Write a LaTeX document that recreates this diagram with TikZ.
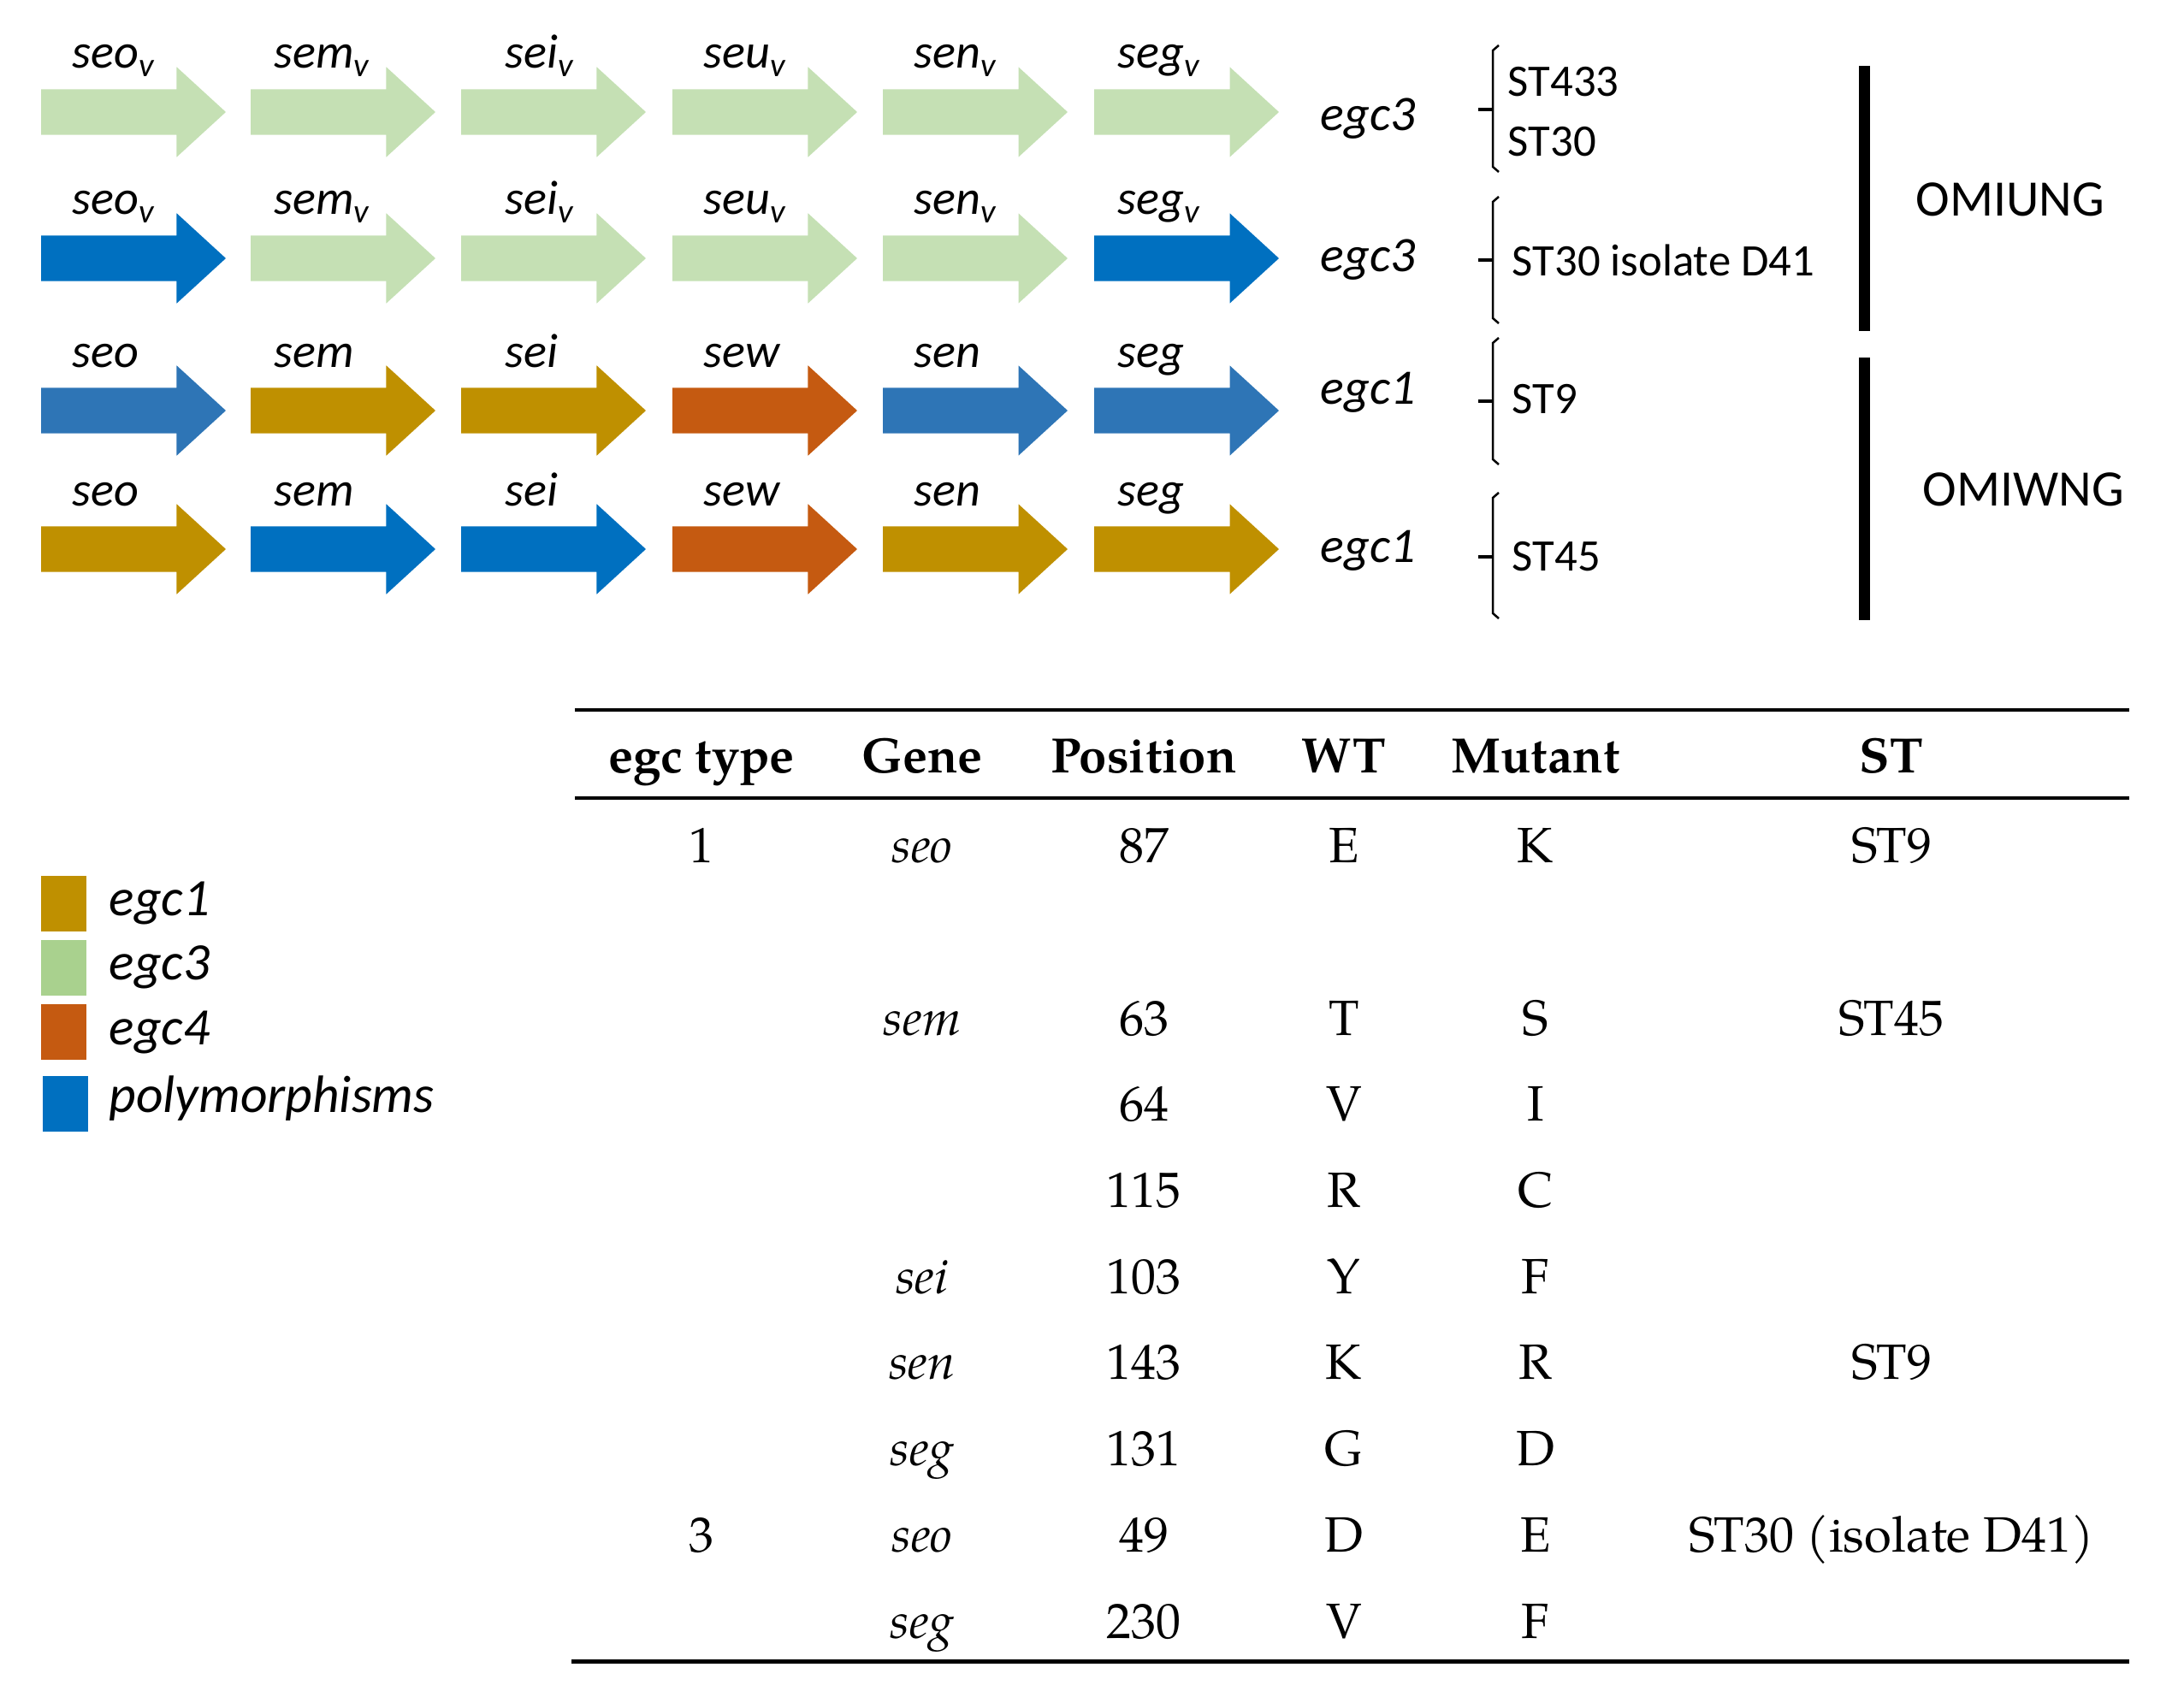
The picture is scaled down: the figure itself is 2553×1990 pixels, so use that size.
\documentclass[tikz,border=0pt]{standalone}
\usepackage{fontspec}
\setmainfont{Carlito}
\newfontfamily\tabfont{texgyrepagella}[Extension=.otf, UprightFont=*-regular, BoldFont=*-bold, ItalicFont=*-italic, BoldItalicFont=*-bolditalic]
\usetikzlibrary{shapes.arrows}
\definecolor{egcone}{HTML}{BF9000}
\definecolor{egcthree}{HTML}{C5E0B4}
\definecolor{egcthreekey}{HTML}{A9D18E}
\definecolor{egcfour}{HTML}{C55A11}
\definecolor{poly}{HTML}{0070C0}
\definecolor{polytwo}{HTML}{2E75B6}
\tikzset{
  gene/.style={single arrow, draw=none, anchor=tail, minimum height=21.6mm, minimum width=10.4mm,
    single arrow head extend=2.6mm, single arrow tip angle=85, inner xsep=0pt, inner ysep=2.6mm, outer sep=0pt},
  genelab/.style={anchor=base west, inner sep=0pt, font=\fontsize{16}{19}\selectfont\itshape},
  egclab/.style={anchor=base west, inner sep=0pt, font=\fontsize{16.5}{19}\selectfont\itshape},
  stlab/.style={anchor=base west, inner sep=0pt, font=\fontsize{15}{18}\selectfont},
  grouplab/.style={anchor=base west, inner sep=0pt, font=\fontsize{17}{20}\selectfont},
  brace/.style={line width=0.25mm},
  keybox/.style={anchor=north west, minimum width=5.3mm, minimum height=6.5mm, inner sep=0pt, draw=none},
  keylab/.style={anchor=base west, inner sep=0pt, font=\fontsize{17.5}{21}\selectfont\itshape},
  th/.style={anchor=base, inner sep=0pt, font=\tabfont\fontsize{16.5}{19}\selectfont\bfseries},
  td/.style={anchor=base, inner sep=0pt, font=\tabfont\fontsize{16.5}{19}\selectfont},
  tdi/.style={td, font=\tabfont\fontsize{16.5}{19}\selectfont\itshape}
}

\begin{document}
\begin{tikzpicture}[x=0.1mm, y=-0.1mm]
\useasboundingbox (0,0) rectangle (2553,1990);

% egc3, reference
\node[gene, fill=egcthree] (a11) at (48,131) {};
\node[gene, fill=egcthree] (a12) at (293,131) {};
\node[gene, fill=egcthree] (a13) at (539,131) {};
\node[gene, fill=egcthree] (a14) at (786,131) {};
\node[gene, fill=egcthree] (a15) at (1032,131) {};
\node[gene, fill=egcthree] (a16) at (1279,131) {};
\node[genelab] (l11) at (84,80) {seo\textsubscript{v}};
\node[genelab] (l12) at (320,80) {sem\textsubscript{v}};
\node[genelab] (l13) at (590,80) {sei\textsubscript{v}};
\node[genelab] (l14) at (822,80) {seu\textsubscript{v}};
\node[genelab] (l15) at (1068,80) {sen\textsubscript{v}};
\node[genelab] (l16) at (1306,80) {seg\textsubscript{v}};

% egc3, isolate D41
\node[gene, fill=poly] (a21) at (48,302) {};
\node[gene, fill=egcthree] (a22) at (293,302) {};
\node[gene, fill=egcthree] (a23) at (539,302) {};
\node[gene, fill=egcthree] (a24) at (786,302) {};
\node[gene, fill=egcthree] (a25) at (1032,302) {};
\node[gene, fill=poly] (a26) at (1279,302) {};
\node[genelab] (l21) at (84,251) {seo\textsubscript{v}};
\node[genelab] (l22) at (320,251) {sem\textsubscript{v}};
\node[genelab] (l23) at (590,251) {sei\textsubscript{v}};
\node[genelab] (l24) at (822,251) {seu\textsubscript{v}};
\node[genelab] (l25) at (1068,251) {sen\textsubscript{v}};
\node[genelab] (l26) at (1306,251) {seg\textsubscript{v}};

% egc1, ST9
\node[gene, fill=polytwo] (a31) at (48,480) {};
\node[gene, fill=egcone] (a32) at (293,480) {};
\node[gene, fill=egcone] (a33) at (539,480) {};
\node[gene, fill=egcfour] (a34) at (786,480) {};
\node[gene, fill=polytwo] (a35) at (1032,480) {};
\node[gene, fill=polytwo] (a36) at (1279,480) {};
\node[genelab] (l31) at (84,429) {seo};
\node[genelab] (l32) at (320,429) {sem};
\node[genelab] (l33) at (590,429) {sei};
\node[genelab] (l34) at (822,429) {sew};
\node[genelab] (l35) at (1068,429) {sen};
\node[genelab] (l36) at (1306,429) {seg};

% egc1, ST45
\node[gene, fill=egcone] (a41) at (48,642) {};
\node[gene, fill=poly] (a42) at (293,642) {};
\node[gene, fill=poly] (a43) at (539,642) {};
\node[gene, fill=egcfour] (a44) at (786,642) {};
\node[gene, fill=egcone] (a45) at (1032,642) {};
\node[gene, fill=egcone] (a46) at (1279,642) {};
\node[genelab] (l41) at (84,591) {seo};
\node[genelab] (l42) at (320,591) {sem};
\node[genelab] (l43) at (590,591) {sei};
\node[genelab] (l44) at (822,591) {sew};
\node[genelab] (l45) at (1068,591) {sen};
\node[genelab] (l46) at (1306,591) {seg};

% cluster types
\node[egclab] (e1) at (1543,153) {egc3};
\node[egclab] (e2) at (1543,317) {egc3};
\node[egclab] (e3) at (1543,472) {egc1};
\node[egclab] (e4) at (1543,657) {egc1};

% brackets and STs
\draw[brace] (1752,53) -- (1745,59) -- (1745,195) -- (1752,201);
\draw[brace] (1752,230) -- (1745,236) -- (1745,372) -- (1752,378);
\draw[brace] (1752,395) -- (1745,401) -- (1745,537) -- (1752,543);
\draw[brace] (1752,576) -- (1745,582) -- (1745,717) -- (1752,723);
\draw[line width=0.4mm] (1728,128) -- (1745,128);
\draw[line width=0.4mm] (1728,304) -- (1745,304);
\draw[line width=0.4mm] (1728,469) -- (1745,469);
\draw[line width=0.4mm] (1728,651) -- (1745,651);
\node[stlab] (s1) at (1762,113) {ST433};
\node[stlab] (s2) at (1762,182) {ST30};
\node[stlab] (s3) at (1767,322) {ST30 isolate D41};
\node[stlab] (s4) at (1767,483) {ST9};
\node[stlab] (s5) at (1767,667) {ST45};

% groups
\draw[line width=1.3mm] (2179,77) -- (2179,387);
\draw[line width=1.3mm] (2179,418) -- (2179,725);
\node[grouplab] (g1) at (2239,253) {OMIUNG};
\node[grouplab] (g2) at (2247,591) {OMIWNG};

% key
\node[keybox, fill=egcone] (k1) at (47,1023) {};
\node[keybox, fill=egcthreekey] (k2) at (47,1098) {};
\node[keybox, fill=egcfour] (k3) at (47,1173) {};
\node[keybox, fill=poly] (k4) at (49,1257) {};
\node[keylab] (kl1) at (127,1070) {egc1};
\node[keylab] (kl2) at (127,1145) {egc3};
\node[keylab] (kl3) at (127,1221) {egc4};
\node[keylab] (kl4) at (127,1300) {polymorphisms};

% table
\draw[line width=0.35mm] (672,830) -- (2489,830);
\draw[line width=0.35mm] (672,933) -- (2489,933);
\draw[line width=0.5mm] (668,1942) -- (2489,1942);
\node[th] (h1) at (820,903) {egc type};
\node[th] (h2) at (1078,903) {Gene};
\node[th] (h3) at (1337,903) {Position};
\node[th] (h4) at (1571,903) {WT};
\node[th] (h5) at (1795,903) {Mutant};
\node[th] (h6) at (2211,903) {ST};

\node[td] (t11) at (820,1008) {1};
\node[tdi] (t12) at (1078,1008) {seo};
\node[td] (t13) at (1337,1008) {87};
\node[td] (t14) at (1571,1008) {E};
\node[td] (t15) at (1795,1008) {K};
\node[td] (t16) at (2211,1008) {ST9};

\node[tdi] (t22) at (1078,1210) {sem};
\node[td] (t23) at (1337,1210) {63};
\node[td] (t24) at (1571,1210) {T};
\node[td] (t25) at (1795,1210) {S};
\node[td] (t26) at (2211,1210) {ST45};

\node[td] (t33) at (1337,1310) {64};
\node[td] (t34) at (1571,1310) {V};
\node[td] (t35) at (1795,1310) {I};

\node[td] (t43) at (1337,1411) {115};
\node[td] (t44) at (1571,1411) {R};
\node[td] (t45) at (1795,1411) {C};

\node[tdi] (t52) at (1078,1512) {sei};
\node[td] (t53) at (1337,1512) {103};
\node[td] (t54) at (1571,1512) {Y};
\node[td] (t55) at (1795,1512) {F};

\node[tdi] (t62) at (1078,1612) {sen};
\node[td] (t63) at (1337,1612) {143};
\node[td] (t64) at (1571,1612) {K};
\node[td] (t65) at (1795,1612) {R};
\node[td] (t66) at (2211,1612) {ST9};

\node[tdi] (t72) at (1078,1713) {seg};
\node[td] (t73) at (1337,1713) {131};
\node[td] (t74) at (1571,1713) {G};
\node[td] (t75) at (1795,1713) {D};

\node[td] (t81) at (820,1814) {3};
\node[tdi] (t82) at (1078,1814) {seo};
\node[td] (t83) at (1337,1814) {49};
\node[td] (t84) at (1571,1814) {D};
\node[td] (t85) at (1795,1814) {E};
\node[td] (t86) at (2211,1814) {ST30 (isolate D41)};

\node[tdi] (t92) at (1078,1915) {seg};
\node[td] (t93) at (1337,1915) {230};
\node[td] (t94) at (1571,1915) {V};
\node[td] (t95) at (1795,1915) {F};
\end{tikzpicture}
\end{document}
